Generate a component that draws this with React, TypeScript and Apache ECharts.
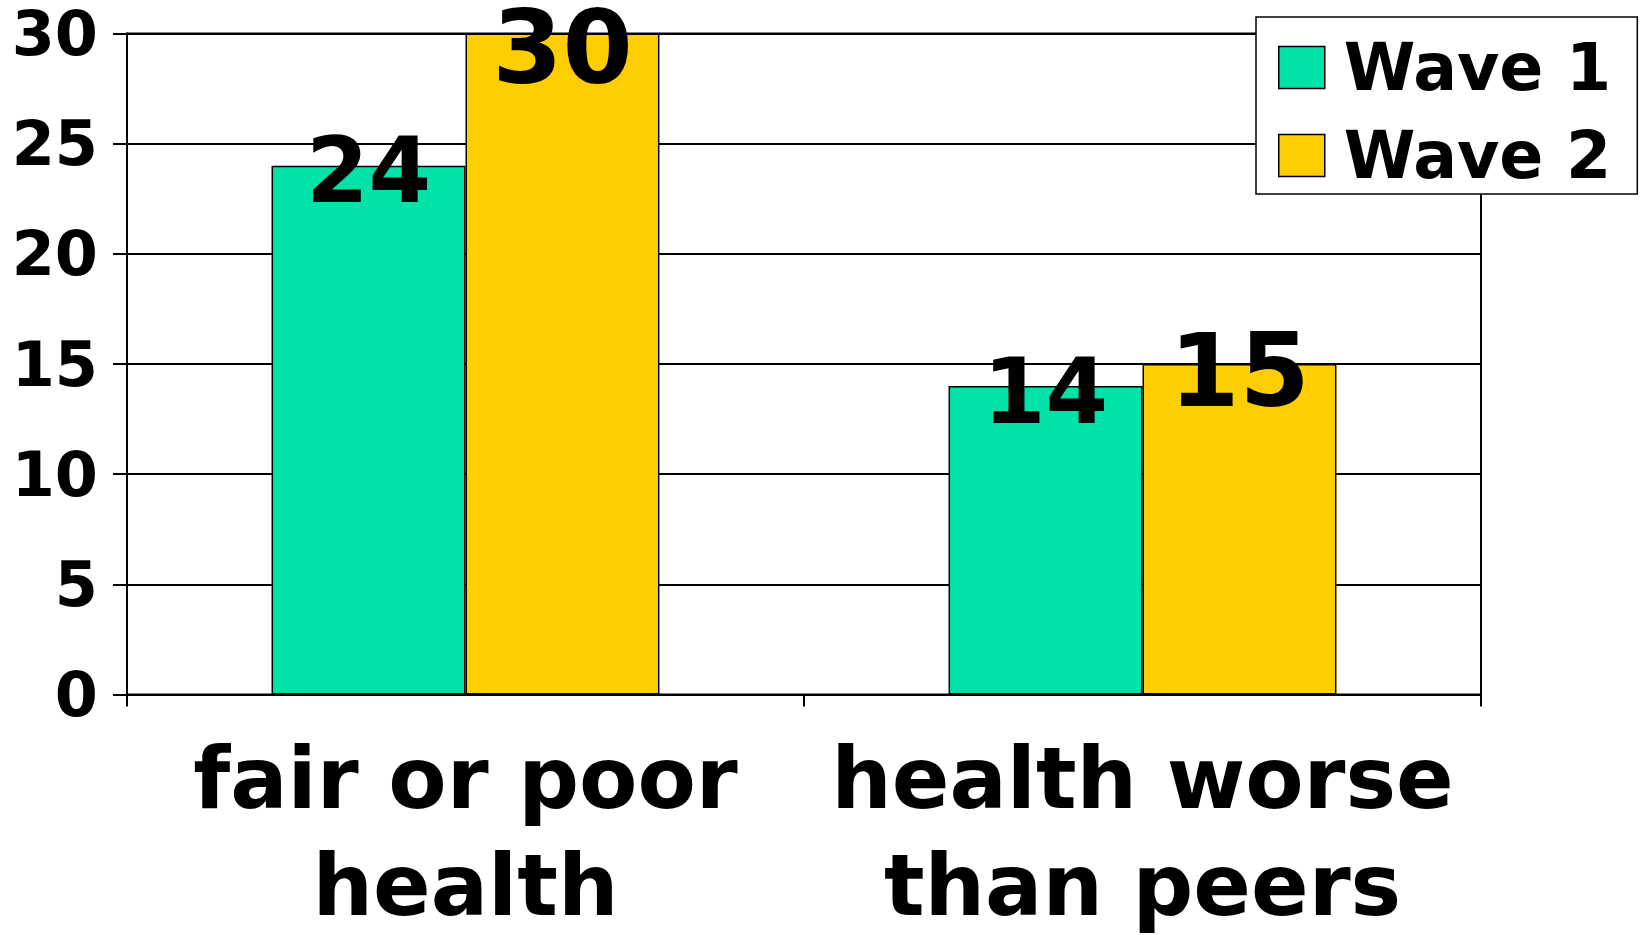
import React, { useEffect, useRef } from "react";
import * as echarts from "echarts";

const categories = ["fair or poor\nhealth", "health worse\nthan peers"];
const seriesNames = ["Wave 1", "Wave 2"];
const wave1 = [24, 14];
const wave2 = [30, 15];
const yMin = 0;
const yMax = 30;
const yInterval = 5;

const FONT = "DejaVu Sans";
const TEAL = "#00E3A8";
const YELLOW = "#FFCE00";

export default function App() {
  const ref = useRef<HTMLDivElement>(null);

  useEffect(() => {
    if (!ref.current) return;
    const chart = echarts.init(ref.current, null, { renderer: "svg" });

    const labelBase = {
      show: true,
      position: ["50%", 0],
      align: "center",
      verticalAlign: "middle",
      color: "#000",
      fontFamily: FONT,
      fontWeight: "bold",
    };

    const catText = {
      color: "#000",
      fontFamily: FONT,
      fontWeight: "bold",
      fontSize: 85,
    };

    const option = {
      animation: false,
      backgroundColor: "#fff",
      grid: {
        left: 127,
        right: 161,
        top: 33.5,
        bottom: 240.5,
        containLabel: false,
        outerBoundsMode: "none",
        show: true,
        borderColor: "#000",
        borderWidth: 2,
        backgroundColor: "transparent",
      },
      legend: {
        orient: "vertical",
        left: 1256,
        top: 17,
        itemWidth: 46,
        itemHeight: 42,
        itemGap: 23,
        padding: [18, 26, 6, 22],
        borderColor: "#000",
        borderWidth: 1.5,
        backgroundColor: "#fff",
        icon: "rect",
        itemStyle: { borderColor: "#000", borderWidth: 1.5 },
        textStyle: {
          fontFamily: FONT,
          fontWeight: "bold",
          fontSize: 65,
          color: "#000",
          padding: [0, 0, 0, 14],
        },
        data: seriesNames,
      },
      xAxis: {
        type: "category",
        data: categories,
        axisLine: { show: true, lineStyle: { color: "#000", width: 2 } },
        axisTick: {
          show: true,
          alignWithLabel: false,
          length: 12,
          lineStyle: { color: "#000", width: 2 },
        },
        axisLabel: {
          interval: 0,
          margin: 23,
          formatter: (v: string) => {
            const lines = v.split("\n");
            return `{a|${lines[0]}}\n{b|${lines[1]}}`;
          },
          rich: {
            a: { ...catText, lineHeight: 122 },
            b: { ...catText, lineHeight: 92 },
          },
        },
        splitLine: { show: false },
      },
      yAxis: {
        type: "value",
        min: yMin,
        max: yMax,
        interval: yInterval,
        axisLine: { show: true, lineStyle: { color: "#000", width: 2 } },
        axisTick: { show: true, length: 14, lineStyle: { color: "#000", width: 2 } },
        axisLabel: {
          margin: 29,
          color: "#000",
          fontFamily: FONT,
          fontWeight: "bold",
          fontSize: 62,
          lineHeight: 60,
          padding: [5, 0, 0, 0],
        },
        splitLine: { show: true, lineStyle: { color: "#000", width: 2 } },
      },
      series: [
        {
          name: seriesNames[0],
          type: "bar",
          data: wave1,
          barGap: "0%",
          barCategoryGap: "42.7%",
          itemStyle: { color: TEAL, borderColor: "#000", borderWidth: 1.5 },
          label: { ...labelBase, fontSize: 90, offset: [0, 5] },
        },
        {
          name: seriesNames[1],
          type: "bar",
          data: wave2.map((v) => ({
            value: v,
            label: { offset: [0, v >= yMax ? 14 : 7] },
          })),
          barGap: "0%",
          barCategoryGap: "42.7%",
          itemStyle: { color: YELLOW, borderColor: "#000", borderWidth: 1.5 },
          label: { ...labelBase, fontSize: 101 },
        },
      ],
    };

    chart.setOption(option as any);
    return () => chart.dispose();
  }, []);

  return (
    <div
      ref={ref}
      style={{ position: "absolute", left: 0, top: 0, width: 1642, height: 935 }}
    />
  );
}
